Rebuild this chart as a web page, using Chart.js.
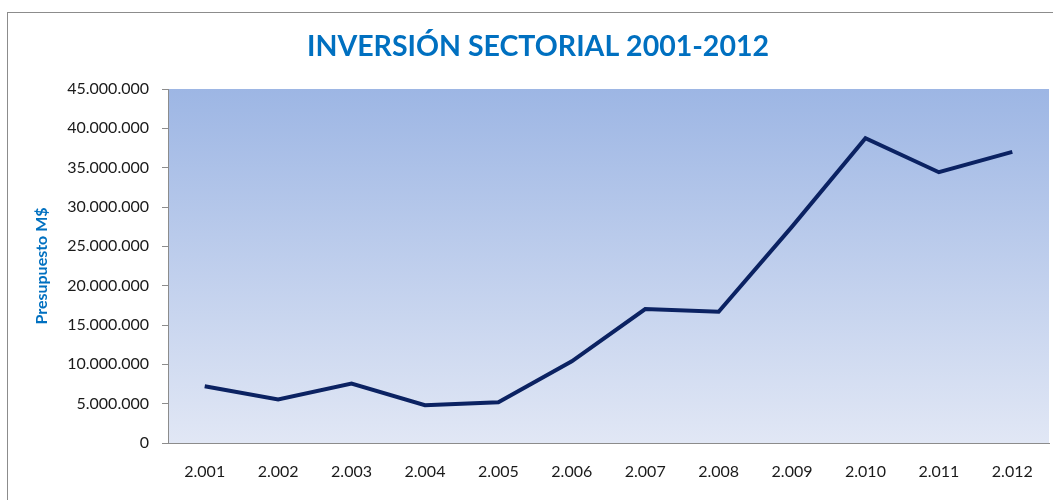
<!DOCTYPE html>
<html>
<head>
<meta charset="utf-8">
<script src="https://cdn.jsdelivr.net/npm/chart.js@4/dist/chart.umd.min.js"></script>
<style>
  html, body { margin: 0; padding: 0; background: #fff; }
  #wrap { width: 1053px; height: 500px; }
</style>
</head>
<body>
<div id="wrap"><canvas id="linechart"></canvas></div>
<script>
const years = ['2.001', '2.002', '2.003', '2.004', '2.005', '2.006', '2.007', '2.008', '2.009', '2.010', '2.011', '2.012'];
const presupuesto = [7210000, 5520000, 7550000, 4800000, 5180000, 10380000, 17030000, 16690000, 27500000, 38740000, 34420000, 37000000];
const yTicks = [0, 5000000, 10000000, 15000000, 20000000, 25000000, 30000000, 35000000, 40000000, 45000000];
const titulo = 'INVERSIÓN SECTORIAL 2001-2012';

// puntos de miles: 45000000 -> 45.000.000
const miles = (v) => String(v).replace(/\B(?=(\d{3})+(?!\d))/g, '.');

// fondo blanco, marco gris, degradado del area de trazado y titulo
const fondo = {
    id: 'fondo',
    beforeDraw(chart) {
        const ctx = chart.ctx;
        const a = chart.chartArea;
        ctx.save();
        ctx.fillStyle = '#ffffff';
        ctx.fillRect(0, 0, chart.width, chart.height);
        ctx.strokeStyle = '#8c8c8c';
        ctx.lineWidth = 1;
        ctx.strokeRect(7.5, 12.5, chart.width + 20, chart.height + 20);
        const g = ctx.createLinearGradient(0, a.top, 0, a.bottom);
        g.addColorStop(0, 'rgb(157, 182, 228)');
        g.addColorStop(1, 'rgb(225, 231, 245)');
        ctx.fillStyle = g;
        ctx.fillRect(a.left, a.top, a.right - a.left, a.bottom - a.top);
        // titulo del grafico
        ctx.fillStyle = '#0070c0';
        ctx.font = 'bold 28.5px Lato';
        ctx.textAlign = 'center';
        ctx.textBaseline = 'middle';
        ctx.fillText(titulo, 538, 47);
        ctx.restore();
    }
};

const ctx = document.getElementById('linechart').getContext('2d');
const myChart = new Chart(ctx, {
    type: 'line',
    data: {
        labels: years,
        datasets: [{
            label: 'Presupuesto M$',
            data: presupuesto,
            borderColor: '#0b2262',
            borderWidth: 4,
            pointRadius: 0,
            tension: 0,
            fill: false
        }]
    },
    options: {
        responsive: true,
        maintainAspectRatio: false,
        animation: false,
        layout: { padding: { left: 0, top: 89, right: 4, bottom: 0 } },
        plugins: {
            legend: { display: false },
            tooltip: { enabled: false },
            title: { display: false }
        },
        scales: {
            x: {
                offset: true,
                afterFit: (scale) => { scale.height = 57; },
                grid: { drawOnChartArea: false, drawTicks: false },
                border: { display: true, color: '#8c8c8c', width: 1 },
                ticks: {
                    color: '#1a1a1a',
                    padding: 19,
                    maxRotation: 0,
                    font: { family: 'Lato', size: 16 }
                }
            },
            y: {
                min: 0,
                max: 45000000,
                afterFit: (scale) => { scale.width = 168; },
                afterBuildTicks: (scale) => { scale.ticks = yTicks.map(v => ({ value: v })); },
                grid: { drawOnChartArea: false, drawTicks: true, tickLength: 6, color: '#8c8c8c' },
                border: { display: true, color: '#8c8c8c', width: 1 },
                ticks: {
                    color: '#1a1a1a',
                    padding: 13,
                    font: { family: 'Lato', size: 16 },
                    callback: (v) => miles(v)
                },
                title: {
                    display: true,
                    text: 'Presupuesto M$',
                    color: '#0070c0',
                    font: { family: 'Lato', size: 16, weight: 'bold' },
                    padding: { top: 32, bottom: 0 }
                }
            }
        }
    },
    plugins: [fondo]
});
</script>
</body>
</html>
